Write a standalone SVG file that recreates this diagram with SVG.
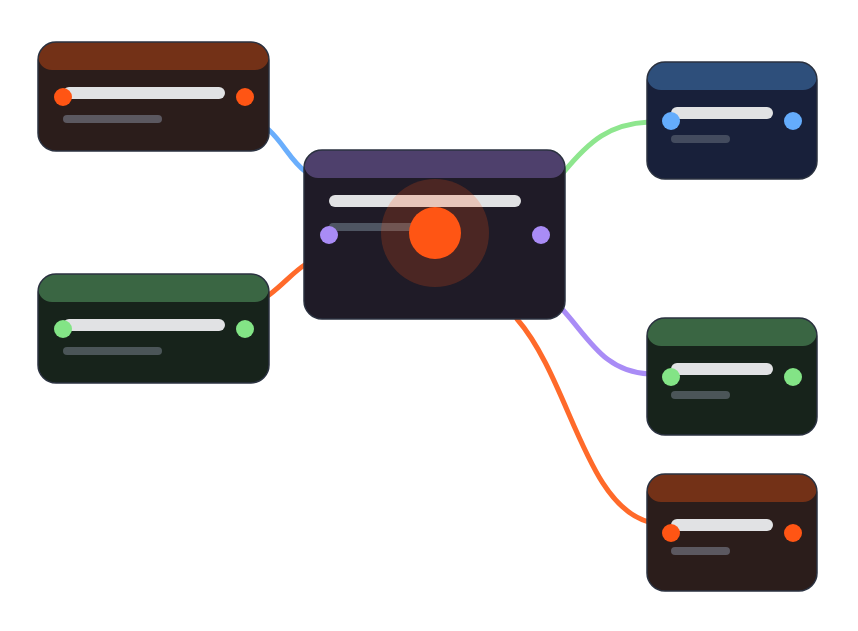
<svg xmlns="http://www.w3.org/2000/svg" width="858" height="631" viewBox="0 0 858 631">
<style>
.c{fill:none;stroke-width:5;stroke-linecap:round}
.l1{fill:#e1e2e4}
.l2{fill:#5b5860}
.bd{stroke:#2b3240;stroke-width:1.5}
</style>
<defs>
<clipPath id="cl"><rect x="38" y="42" width="231" height="109" rx="18"/></clipPath>
<clipPath id="cl2"><rect x="38" y="274" width="231" height="109" rx="18"/></clipPath>
<clipPath id="cc"><rect x="304" y="150" width="261" height="169" rx="18"/></clipPath>
<clipPath id="r1"><rect x="647" y="62" width="170" height="117" rx="18"/></clipPath>
<clipPath id="r2"><rect x="647" y="318" width="170" height="117" rx="18"/></clipPath>
<clipPath id="r3"><rect x="647" y="474" width="170" height="117" rx="18"/></clipPath>
</defs>
<rect width="858" height="631" fill="#fff"/>
<g id="connectors">
<path class="c" stroke="#6aaefc" d="M269 130 C285 145 290 160 306 172"/>
<path class="c" stroke="#ff6a2a" d="M269 295 C285 283 292 273 306 264"/>
<path class="c" stroke="#8ee68e" d="M563 173 C590 140 610 124 649 122"/>
<path class="c" stroke="#a98cf6" d="M563 310 C590 340 605 372 649 374"/>
<path class="c" stroke="#ff6a2a" d="M517 319 C570 380 585 505 649 522"/>
</g>
<g id="n1">
<rect x="38" y="42" width="231" height="109" rx="18" fill="#2b1d1b"/>
<rect x="38" y="42" width="231" height="28" rx="14" fill="#733117" clip-path="url(#cl)"/>
<rect x="38" y="42" width="231" height="109" rx="18" fill="none" class="bd"/>
<rect class="l1" x="63" y="87" width="162" height="12" rx="6"/>
<rect class="l2" x="63" y="115" width="99" height="8" rx="4"/>
<circle cx="63" cy="97" r="9" fill="#ff5514"/><circle cx="245" cy="97" r="9" fill="#ff5514"/>
</g>
<g id="n2">
<rect x="38" y="274" width="231" height="109" rx="18" fill="#17231b"/>
<rect x="38" y="274" width="231" height="28" rx="14" fill="#3a6643" clip-path="url(#cl2)"/>
<rect x="38" y="274" width="231" height="109" rx="18" fill="none" class="bd"/>
<rect class="l1" x="63" y="319" width="162" height="12" rx="6"/>
<rect x="63" y="347" width="99" height="8" rx="4" fill="#4b5558"/>
<circle cx="63" cy="329" r="9" fill="#83e486"/><circle cx="245" cy="329" r="9" fill="#83e486"/>
</g>
<g id="center">
<rect x="304" y="150" width="261" height="169" rx="18" fill="#1f1b27"/>
<rect x="304" y="150" width="261" height="28" rx="14" fill="#4e406c" clip-path="url(#cc)"/>
<rect x="304" y="150" width="261" height="169" rx="18" fill="none" class="bd"/>
<rect class="l1" x="329" y="195" width="192" height="12" rx="6"/>
<rect x="329" y="223" width="90" height="8" rx="4" fill="#4e5562"/>
<circle cx="329" cy="235" r="9" fill="#a98cf6"/><circle cx="541" cy="235" r="9" fill="#a98cf6"/>
<circle cx="435" cy="233" r="54" fill="#ff5514" fill-opacity="0.2"/>
<circle cx="435" cy="233" r="26" fill="#ff5514"/>
</g>
<g id="r1n">
<rect x="647" y="62" width="170" height="117" rx="18" fill="#18203a"/>
<rect x="647" y="62" width="170" height="28" rx="14" fill="#2e4f7b" clip-path="url(#r1)"/>
<rect x="647" y="62" width="170" height="117" rx="18" fill="none" class="bd"/>
<rect class="l1" x="671" y="107" width="102" height="12" rx="6"/>
<rect x="671" y="135" width="59" height="8" rx="4" fill="#434b5e"/>
<circle cx="671" cy="121" r="9" fill="#64acfc"/><circle cx="793" cy="121" r="9" fill="#64acfc"/>
</g>
<g id="r2n">
<rect x="647" y="318" width="170" height="117" rx="18" fill="#17231b"/>
<rect x="647" y="318" width="170" height="28" rx="14" fill="#3a6643" clip-path="url(#r2)"/>
<rect x="647" y="318" width="170" height="117" rx="18" fill="none" class="bd"/>
<rect class="l1" x="671" y="363" width="102" height="12" rx="6"/>
<rect x="671" y="391" width="59" height="8" rx="4" fill="#4b5558"/>
<circle cx="671" cy="377" r="9" fill="#83e486"/><circle cx="793" cy="377" r="9" fill="#83e486"/>
</g>
<g id="r3n">
<rect x="647" y="474" width="170" height="117" rx="18" fill="#2b1d1b"/>
<rect x="647" y="474" width="170" height="28" rx="14" fill="#733117" clip-path="url(#r3)"/>
<rect x="647" y="474" width="170" height="117" rx="18" fill="none" class="bd"/>
<rect class="l1" x="671" y="519" width="102" height="12" rx="6"/>
<rect class="l2" x="671" y="547" width="59" height="8" rx="4"/>
<circle cx="671" cy="533" r="9" fill="#ff5514"/><circle cx="793" cy="533" r="9" fill="#ff5514"/>
</g>
</svg>
